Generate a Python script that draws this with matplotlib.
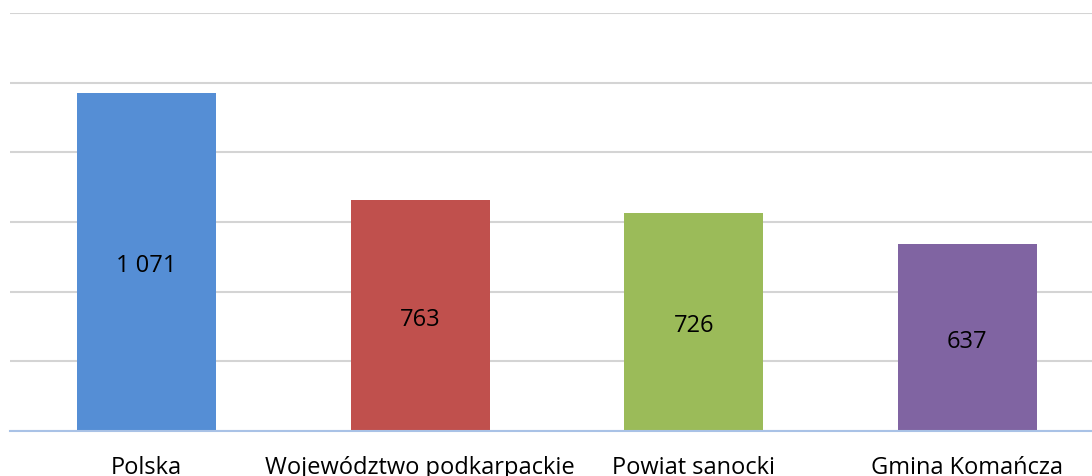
import numpy as np
import matplotlib.pyplot as plt

categories = ["Polska", "Województwo podkarpackie", "Powiat sanocki", "Gmina Komańcza"]
values = [1071, 763, 726, 637]
labels = ["1 071", "763", "726", "637"]
colors = ["#558ed5", "#c0504d", "#9bbb59", "#8064a2"]

plt.rcParams['font.family'] = ['Open Sans', 'DejaVu Sans']

fig = plt.figure(figsize=(10.92, 4.77), dpi=100)
# axes run slightly past the right edge, like the cropped original
ax = fig.add_axes([10/1092, 45/477, 1094/1092, 418/477])

x = np.arange(len(categories))
bars = ax.bar(x, values, width=0.51, color=colors, zorder=3)

for xi, v, lab in zip(x, values, labels):
    ax.text(xi, (v + 100) / 2 - 10, lab, ha='center', va='center', fontsize=17, color='black', zorder=4)

ax.set_ylim(100, 1300)
ax.set_xlim(-0.5, 3.5)
ax.set_yticks(np.arange(100, 1301, 200))
ax.set_yticklabels([])
ax.yaxis.grid(True, color='#d4d4d4', linewidth=1.5, zorder=0)
ax.set_xticks(x)
ax.set_xticklabels(categories, fontsize=17)
ax.tick_params(axis='both', length=0)
ax.tick_params(axis='x', pad=17)

for s in ['top', 'right', 'left']:
    ax.spines[s].set_visible(False)
ax.spines['bottom'].set_color('#a9c2e6')
ax.spines['bottom'].set_linewidth(1.5)
ax.spines['bottom'].set_zorder(5)

fig.savefig("out.png", dpi=100)
